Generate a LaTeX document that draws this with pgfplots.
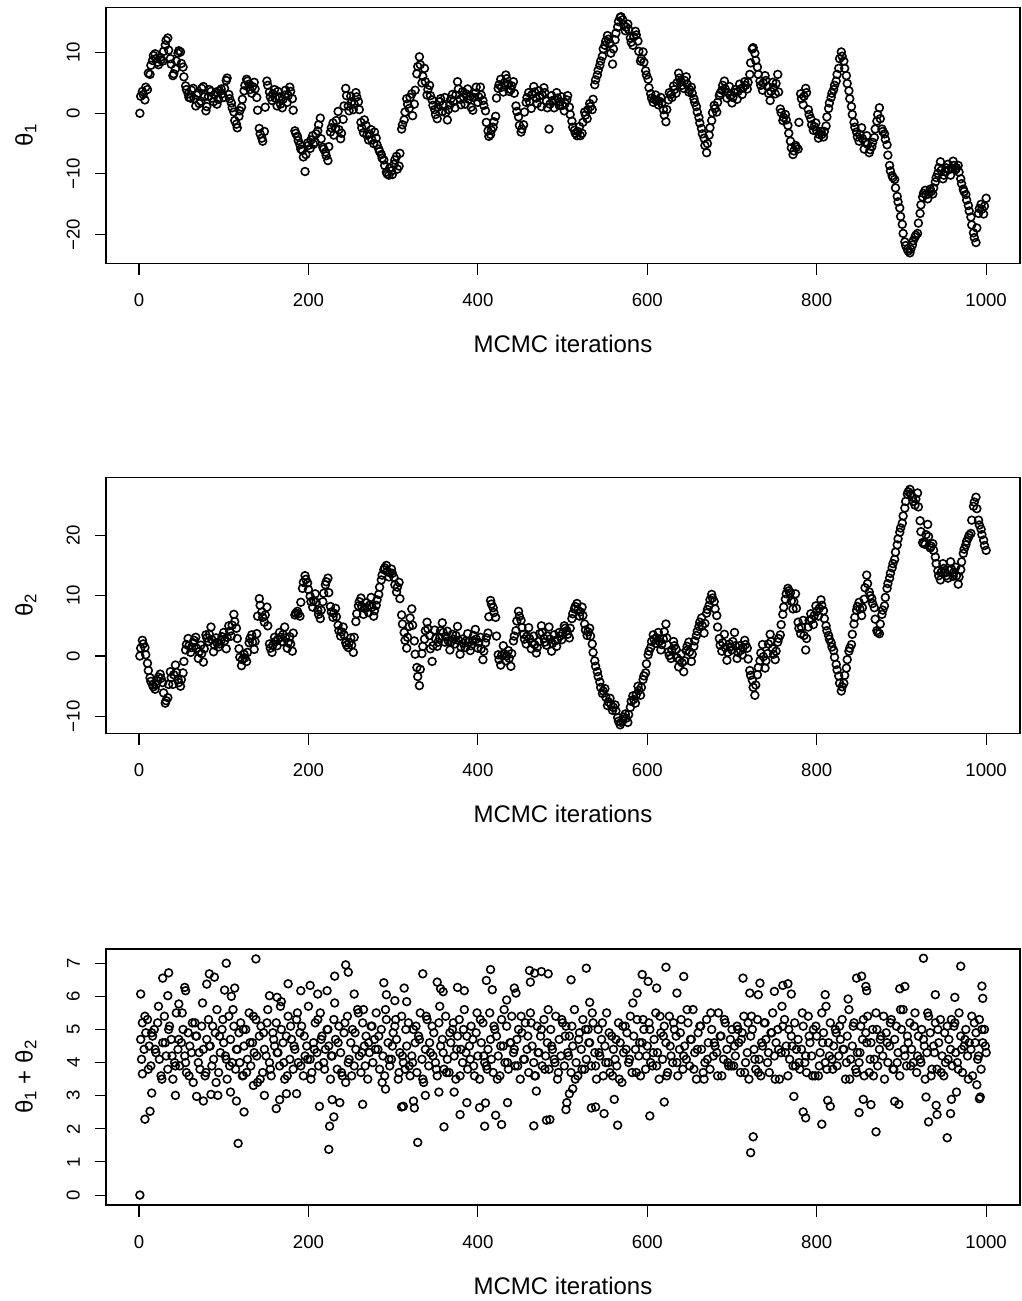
\documentclass[border=0pt]{standalone}
\usepackage{fontspec}
\setmainfont{Liberation Sans}
\usepackage{graphicx}
\usepackage{pgfplots}
\usepackage{pgfplotstable}
\pgfplotsset{compat=1.18}

\pgfplotstableread{
x y
1 0.0
4 3.6
7 2.2
10 3.9
13 6.4
16 8.7
19 9.8
22 8.4
25 9.2
28 8.6
31 11.2
34 12.4
37 9.0
40 6.2
43 7.3
46 9.9
49 10.1
52 7.6
55 4.5
58 3.2
61 2.5
64 4.1
67 1.2
70 3.3
73 2.0
76 4.4
79 0.4
82 2.8
85 3.6
88 1.9
91 3.5
94 2.3
97 4.0
100 2.6
103 5.4
106 3.1
109 1.7
112 0.2
115 -1.8
118 -0.5
121 1.0
124 3.7
127 5.6
130 4.8
133 3.3
136 5.1
139 2.6
142 -2.5
145 -4.1
148 -3.0
151 5.3
154 3.5
157 2.1
160 3.9
163 1.2
166 2.7
169 0.9
172 3.0
175 1.8
178 4.3
181 2.4
184 -2.9
187 -3.8
190 -5.2
193 -6.1
196 -9.6
199 -4.9
202 -5.8
205 -3.7
208 -4.8
211 -2.9
214 -0.8
217 -5.6
220 -6.4
223 -7.8
226 -3.1
229 -1.6
232 -2.5
235 0.3
238 -4.2
241 -1.0
244 4.1
247 1.2
250 2.8
253 0.6
256 3.4
259 1.9
262 -1.5
265 -3.2
268 -2.0
271 -4.4
274 -2.7
277 -5.0
280 -4.1
283 -5.9
286 -6.8
289 -7.7
292 -9.7
295 -10.2
298 -9.5
301 -8.4
304 -7.1
307 -8.7
310 -2.6
313 -1.1
316 2.4
319 0.8
322 3.2
325 1.5
328 6.5
331 9.3
334 5.0
337 7.4
340 3.0
343 4.6
346 2.2
349 0.6
352 -0.9
355 1.9
358 0.3
361 2.6
364 -1.1
367 1.4
370 3.1
373 0.9
376 5.2
379 2.3
382 3.6
385 1.5
388 4.0
391 2.8
394 0.5
397 3.3
400 1.8
403 4.3
406 2.1
409 0.4
412 -2.9
415 -3.5
418 -2.3
421 -0.5
424 4.1
427 5.6
430 3.5
433 6.3
436 4.8
439 3.9
442 5.2
445 1.2
448 -0.6
451 -3.1
454 -1.9
457 1.8
460 3.4
463 0.8
466 4.4
469 2.5
472 3.7
475 1.1
478 4.2
481 2.0
484 -2.6
487 2.9
490 0.9
493 3.4
496 1.3
499 2.7
502 0.4
505 2.2
508 1.0
511 -1.3
514 -2.8
517 -3.7
520 -2.2
523 -3.3
526 0.2
529 -0.9
532 1.6
535 0.6
538 4.7
541 6.3
544 7.9
547 9.4
550 11.2
553 12.8
556 11.5
559 8.1
562 12.1
565 14.2
568 15.8
571 15.4
574 13.6
577 14.7
580 12.4
583 11.2
586 13.5
589 11.9
592 8.6
595 10.1
598 7.0
601 5.6
604 3.2
607 1.8
610 3.0
613 1.4
616 2.6
619 0.6
622 -1.4
625 2.2
628 3.1
631 4.5
634 3.3
637 6.6
640 5.2
643 4.1
646 6.0
649 3.5
652 4.3
655 2.4
658 1.1
661 -0.7
664 -2.5
667 -4.1
670 -6.5
673 -3.6
676 -1.2
679 1.3
682 0.2
685 2.9
688 3.8
691 5.3
694 2.5
697 4.4
700 1.7
703 3.4
706 2.3
709 4.8
712 3.1
715 5.2
718 4.0
721 6.4
724 10.6
727 9.9
730 7.6
733 5.3
736 3.8
739 6.2
742 4.4
745 2.1
748 5.1
751 3.2
754 6.4
757 0.7
760 -1.2
763 -0.2
766 -2.0
769 -4.6
772 -6.8
775 -5.3
778 -5.9
781 3.2
784 1.4
787 4.1
790 0.6
793 -0.9
796 -2.8
799 -1.6
802 -4.1
805 -3.0
808 -3.9
811 -2.1
814 0.8
817 2.6
820 3.9
823 5.3
826 7.4
829 10.1
832 8.6
835 6.2
838 3.7
841 1.1
844 -1.5
847 -3.1
850 -4.6
853 -2.4
856 -5.9
859 -3.7
862 -6.5
865 -5.5
868 -4.0
871 -1.3
874 0.9
877 -2.6
880 -3.4
883 -5.2
886 -8.6
889 -10.3
892 -10.9
895 -13.7
898 -15.6
901 -18.3
904 -21.2
907 -22.4
910 -23.0
913 -21.7
916 -20.4
919 -19.8
922 -16.5
925 -13.8
928 -12.7
931 -14.1
934 -12.5
937 -13.3
940 -11.3
943 -9.9
946 -8.0
949 -10.8
952 -9.6
955 -8.4
958 -10.2
961 -7.9
964 -9.3
967 -8.6
970 -10.8
973 -12.5
976 -13.4
979 -15.2
982 -17.1
985 -19.7
988 -21.3
991 -16.5
994 -15.0
997 -16.6
1000 -14.0
}\thetaone

\pgfplotstableread{
x y
2 2.8
5 3.1
8 4.3
11 6.6
14 7.9
17 9.5
20 9.0
23 8.0
26 8.8
29 10.2
32 12.0
35 10.4
38 8.1
41 6.5
44 8.6
47 10.3
50 8.2
53 6.0
56 3.9
59 2.6
62 3.8
65 2.4
68 3.0
71 1.6
74 4.1
77 2.7
80 1.1
83 3.9
86 2.5
89 3.0
92 1.5
95 3.7
98 3.2
101 4.1
104 5.8
107 2.4
110 0.9
113 -1.2
116 -2.4
119 0.4
122 2.3
125 4.6
128 5.3
131 3.9
134 4.4
137 4.0
140 0.5
143 -3.4
146 -4.6
149 1.0
152 4.6
155 2.7
158 3.2
161 2.5
164 3.6
167 1.5
170 2.3
173 3.8
176 2.9
179 3.6
182 0.5
185 -3.3
188 -4.5
191 -5.9
194 -7.2
197 -6.8
200 -5.3
203 -4.4
206 -5.1
209 -3.4
212 -1.9
215 -4.2
218 -5.9
221 -7.0
224 -5.5
227 -2.4
230 -3.6
233 -1.2
236 -2.7
239 -3.3
242 1.2
245 2.9
248 0.4
251 1.9
254 1.5
257 2.7
260 0.6
263 -2.4
266 -1.1
269 -3.6
272 -3.4
275 -4.4
278 -3.1
281 -5.2
284 -6.3
287 -7.4
290 -8.6
293 -10.0
296 -9.0
299 -10.1
302 -7.7
305 -9.2
308 -6.6
311 -1.9
314 0.2
317 1.5
320 2.6
323 -0.4
326 3.8
329 7.7
332 8.0
335 6.1
338 5.2
341 3.9
344 2.9
347 1.3
350 -0.2
353 1.0
356 2.4
359 1.3
362 0.1
365 0.6
368 2.3
371 1.9
374 3.0
377 4.0
380 1.4
383 2.7
386 3.2
389 2.3
392 1.0
395 2.6
398 4.3
401 2.7
404 3.0
407 1.3
410 -1.5
413 -3.8
416 -2.8
419 -1.4
422 2.5
425 4.7
428 4.3
431 5.0
434 5.7
437 3.6
440 4.5
443 3.3
446 0.3
449 -2.0
452 -2.6
455 0.2
458 2.6
461 1.9
464 3.1
467 3.5
470 1.6
473 2.9
476 3.0
479 3.4
482 0.9
485 1.5
488 2.1
491 2.2
494 2.5
497 1.9
500 1.3
503 1.6
506 2.9
509 -0.2
512 -2.3
515 -3.3
518 -3.0
521 -3.7
524 -1.5
527 -0.3
530 0.6
533 1.1
536 2.3
539 5.5
542 7.1
545 8.6
548 10.6
551 11.9
554 12.2
557 9.9
560 10.6
563 13.2
566 15.1
569 15.9
572 14.6
575 14.2
578 13.8
581 11.7
584 12.6
587 12.9
590 10.2
593 9.0
596 8.4
599 6.3
602 4.2
605 2.5
608 2.3
611 2.1
614 2.0
617 1.6
620 -0.3
623 0.6
626 3.4
629 2.6
632 3.9
635 5.0
638 5.8
641 4.6
644 5.4
647 4.8
650 3.9
653 3.3
656 1.8
659 0.2
662 -1.6
665 -3.4
668 -5.3
671 -5.0
674 -2.4
677 0.1
680 0.8
683 1.8
686 3.3
689 4.6
692 4.0
695 3.4
698 2.9
701 2.6
704 3.9
707 3.6
710 4.0
713 4.2
716 4.6
719 5.1
722 8.3
725 10.8
728 8.7
731 6.4
734 4.6
737 5.0
740 5.4
743 3.3
746 3.6
749 4.2
752 4.9
755 3.5
758 0.1
761 -0.7
764 -1.1
767 -3.3
770 -5.7
773 -6.2
776 -5.6
779 -1.5
782 2.4
785 2.8
788 3.4
791 -0.2
794 -1.9
797 -2.2
800 -2.9
803 -3.5
806 -3.5
809 -3.0
812 -0.6
815 1.7
818 3.3
821 4.6
824 6.4
827 9.0
830 9.4
833 7.4
836 4.9
839 2.4
842 -0.2
845 -2.3
848 -3.9
851 -3.5
854 -4.2
857 -4.8
860 -5.1
863 -6.0
866 -4.8
869 -2.6
872 -0.2
875 -0.9
878 -3.0
881 -4.3
884 -6.9
887 -9.5
890 -10.6
893 -12.3
896 -14.6
899 -17.0
902 -19.8
905 -21.8
908 -22.7
911 -22.4
914 -21.0
917 -20.1
920 -18.1
923 -15.1
926 -13.2
929 -13.4
932 -13.3
935 -12.9
938 -12.3
941 -10.6
944 -9.0
947 -9.4
950 -10.2
953 -9.0
956 -9.3
959 -9.0
962 -8.6
965 -9.0
968 -9.7
971 -11.6
974 -12.9
977 -14.3
980 -16.1
983 -18.4
986 -20.5
989 -18.9
992 -15.7
995 -15.8
998 -15.3
}\thetaoneb

\pgfplotstableread{
x y
1 0.0
4 2.6
7 1.4
10 -1.2
13 -3.6
16 -4.8
19 -5.5
22 -4.1
25 -3.0
28 -4.4
31 -7.8
34 -6.9
37 -2.6
40 -4.7
43 -1.5
46 -3.9
49 -5.0
52 -2.8
55 1.0
58 2.9
61 0.6
64 2.2
67 3.1
70 -0.4
73 1.8
76 -1.0
79 3.5
82 2.4
85 4.8
88 0.7
91 3.0
94 1.5
97 2.6
100 3.9
103 1.2
106 5.0
109 3.3
112 6.9
115 4.6
118 1.2
121 -1.6
124 0.3
127 -0.9
130 2.2
133 3.5
136 1.1
139 3.7
142 9.5
145 7.3
148 5.6
151 8.1
154 2.0
157 0.6
160 3.1
163 1.7
166 3.9
169 2.4
172 4.8
175 1.3
178 3.2
181 0.8
184 6.8
187 7.4
190 6.6
193 11.2
196 13.3
199 12.1
202 9.9
205 8.1
208 10.3
211 7.6
214 6.2
217 9.0
220 11.8
223 12.9
226 8.2
229 6.4
232 7.9
235 5.1
238 3.3
241 4.8
244 2.2
247 1.4
250 3.0
253 0.6
256 5.7
259 8.3
262 9.6
265 6.9
268 8.8
271 7.2
274 9.7
277 6.6
280 8.4
283 10.2
286 12.6
289 14.3
292 15.0
295 13.1
298 14.4
301 13.0
304 10.6
307 12.2
310 6.8
313 3.9
316 1.3
319 4.9
322 7.8
325 2.5
328 -1.9
331 -4.9
334 0.4
337 2.8
340 5.6
343 3.4
346 -0.9
349 4.3
352 1.6
355 3.0
358 5.5
361 2.3
364 4.1
367 1.0
370 3.6
373 2.0
376 4.9
379 0.3
382 2.8
385 1.4
388 3.7
391 0.9
394 2.5
397 4.4
400 1.3
403 3.1
406 -0.6
409 2.2
412 3.8
415 9.2
418 8.0
421 6.4
424 0.2
427 -1.5
430 1.7
433 -0.8
436 0.9
439 -1.7
442 2.5
445 4.2
448 7.4
451 5.9
454 3.6
457 2.0
460 4.7
463 1.2
466 3.3
469 0.5
472 2.4
475 5.0
478 2.9
481 1.8
484 4.8
487 0.8
490 3.5
493 1.6
496 3.9
499 2.7
502 5.0
505 4.2
508 3.0
511 6.2
514 7.8
517 8.7
520 6.6
523 8.1
526 5.3
529 3.4
532 4.6
535 2.0
538 -0.8
541 -2.6
544 -4.3
547 -6.2
550 -5.4
553 -8.2
556 -7.0
559 -9.0
562 -8.1
565 -10.2
568 -11.4
571 -10.7
574 -9.6
577 -11.0
580 -8.5
583 -6.6
586 -7.8
589 -5.0
592 -6.5
595 -3.9
598 -2.8
601 0.2
604 1.4
607 3.5
610 2.1
613 3.9
616 1.0
619 2.8
622 5.3
625 0.7
628 -0.4
631 2.4
634 1.1
637 -1.8
640 0.3
643 -2.6
646 0.9
649 2.3
652 -0.9
655 1.6
658 3.4
661 4.9
664 6.3
667 3.8
670 7.1
673 8.4
676 10.2
679 9.0
682 6.7
685 2.9
688 0.8
691 3.6
694 -0.7
697 2.0
700 1.0
703 3.9
706 -0.4
709 1.7
712 0.2
715 2.6
718 1.3
721 -2.4
724 -4.0
727 -6.5
730 -3.1
733 -0.8
736 1.9
739 -2.0
742 0.4
745 3.6
748 1.2
751 -0.6
754 2.3
757 3.5
760 6.9
763 9.4
766 11.2
769 10.5
772 7.8
775 10.3
778 5.6
781 3.7
784 5.9
787 1.0
790 4.8
793 7.0
796 5.2
799 8.3
802 6.6
805 9.3
808 7.5
811 5.0
814 3.4
817 2.2
820 0.9
823 -1.4
826 -3.3
829 -5.8
832 -4.5
835 -2.0
838 0.8
841 1.9
844 5.3
847 7.6
850 8.9
853 6.7
856 9.4
859 13.4
862 10.6
865 9.5
868 8.0
871 4.2
874 3.7
877 6.9
880 8.3
883 11.2
886 12.9
889 14.6
892 16.0
895 18.4
898 20.5
901 22.0
904 24.5
907 26.8
910 27.6
913 26.3
916 25.0
919 27.0
922 22.4
925 18.8
928 18.5
931 21.8
934 17.9
937 18.6
940 16.4
943 14.1
946 12.6
949 15.3
952 13.8
955 12.9
958 15.6
961 13.2
964 14.7
967 11.9
970 14.3
973 17.0
976 18.4
979 19.6
982 20.3
985 24.8
988 26.3
991 22.5
994 21.0
997 19.2
1000 17.5
}\thetatwo

\pgfplotstableread{
x y
2 1.3
5 2.0
8 0.2
11 -2.4
14 -4.2
17 -5.1
20 -4.8
23 -3.5
26 -3.7
29 -6.1
32 -7.4
35 -4.7
38 -3.6
41 -3.1
44 -2.7
47 -4.4
50 -3.9
53 -0.9
56 1.9
59 1.7
62 1.4
65 2.6
68 1.3
71 0.7
74 0.4
77 1.2
80 3.0
83 3.6
86 2.7
89 1.8
92 2.2
95 2.0
98 3.2
101 2.5
104 3.1
107 4.1
110 5.1
113 5.7
116 2.9
119 -0.2
122 -0.6
125 -0.3
128 0.6
131 2.9
134 2.3
137 2.4
140 6.6
143 8.4
146 6.4
149 6.8
152 5.0
155 1.3
158 1.8
161 2.4
164 2.8
167 3.1
170 3.6
173 3.0
176 2.2
179 2.0
182 3.8
185 7.1
188 7.0
191 8.9
194 12.2
197 12.7
200 11.0
203 9.0
206 9.2
209 8.9
212 6.9
215 7.6
218 10.4
221 12.3
224 10.5
227 7.3
230 7.1
233 6.5
236 4.2
239 4.0
242 3.5
245 1.8
248 2.2
251 1.8
254 3.1
257 7.0
260 9.0
263 8.2
266 7.9
269 8.0
272 8.4
275 8.1
278 7.5
281 9.3
284 11.4
287 13.4
290 14.6
293 14.0
296 13.8
299 13.7
302 11.8
305 11.4
308 9.5
311 5.3
314 2.6
317 3.1
320 6.3
323 5.1
326 0.3
329 -3.4
332 -2.2
335 1.6
338 4.2
341 4.5
344 1.2
347 1.7
350 2.9
353 2.3
356 4.2
359 3.9
362 3.2
365 2.5
368 2.3
371 2.8
374 3.4
377 2.6
380 1.5
383 2.1
386 2.5
389 2.3
392 1.7
395 3.4
398 2.8
401 2.2
404 1.2
407 0.8
410 3.0
413 6.5
416 8.6
419 7.2
422 3.3
425 -0.6
428 0.1
431 0.4
434 0.0
437 -0.4
440 0.4
443 3.3
446 5.8
449 6.6
452 4.7
455 2.8
458 3.3
461 2.9
464 2.2
467 1.9
470 1.4
473 3.7
476 3.9
479 2.3
482 3.3
485 2.8
488 2.1
491 2.5
494 2.7
497 3.3
500 3.8
503 4.6
506 3.6
509 4.6
512 7.0
515 8.2
518 7.6
521 7.3
524 6.7
527 4.3
530 4.0
533 3.3
536 0.6
539 -1.7
542 -3.4
545 -5.2
548 -5.8
551 -6.8
554 -7.6
557 -8.0
560 -8.5
563 -9.1
566 -10.8
569 -11.0
572 -10.1
575 -10.3
578 -9.7
581 -7.5
584 -7.2
587 -6.4
590 -5.7
593 -5.2
596 -3.3
599 -1.3
602 0.8
605 2.4
608 2.8
611 3.0
614 2.4
617 1.9
620 4.0
623 3.0
626 0.1
629 1.0
632 1.7
635 -0.3
638 -0.7
641 -1.1
644 -0.8
647 1.6
650 0.7
653 0.3
656 2.5
659 4.1
662 5.6
665 5.0
668 5.4
671 7.7
674 9.3
677 9.6
680 7.8
683 4.8
686 1.8
689 2.2
692 1.4
695 0.6
698 1.5
701 2.4
704 1.7
707 0.6
710 0.9
713 1.4
716 1.9
719 -0.5
722 -3.2
725 -5.2
728 -4.8
731 -1.9
734 0.5
737 -0.1
740 -0.8
743 2.0
746 2.4
749 0.3
752 0.8
755 2.9
758 5.2
761 8.1
764 10.3
767 10.8
770 9.1
773 9.0
776 7.9
779 4.6
782 4.8
785 3.4
788 2.9
791 5.9
794 6.1
797 6.7
800 7.4
803 7.9
806 8.4
809 6.2
812 4.2
815 2.8
818 1.5
821 -0.2
824 -2.3
827 -4.5
830 -5.1
833 -3.2
836 -0.6
839 1.3
842 3.6
845 6.4
848 8.2
851 7.8
854 8.0
857 11.3
860 12.0
863 10.0
866 8.7
869 6.1
872 3.9
875 5.3
878 7.6
881 9.7
884 12.0
887 13.7
890 15.3
893 17.2
896 19.4
899 21.2
902 23.2
905 25.6
908 27.2
911 26.9
914 25.6
917 26.0
920 24.7
923 20.6
926 18.6
929 20.1
932 19.8
935 18.2
938 17.5
941 15.3
944 13.3
947 13.9
950 14.5
953 13.3
956 14.2
959 14.4
962 13.9
965 13.3
968 13.1
971 15.6
974 17.7
977 19.0
980 20.0
983 22.5
986 25.5
989 24.4
992 21.7
995 20.1
998 18.3
}\thetatwob

\pgfplotstableread{
x y
1 0.0
2 6.07
4 3.66
7 2.29
13 2.53
15 3.08
28 6.55
35 6.71
34 6.02
43 3.01
47 5.77
54 6.27
55 6.17
68 2.98
76 2.84
80 6.37
83 6.68
89 6.58
85 3.04
93 3.01
103 7.00
101 6.19
109 6.00
113 6.25
108 3.11
115 2.84
117 1.56
124 2.51
138 7.13
123 3.61
135 3.31
148 3.01
162 2.61
166 2.88
174 3.06
186 3.06
154 6.02
163 5.97
168 5.84
176 6.38
191 6.17
202 6.33
211 6.07
222 6.17
213 2.68
225 2.08
224 1.38
230 2.36
228 2.88
237 2.79
231 6.61
244 6.95
247 6.73
254 6.07
264 2.74
265 5.60
289 6.41
292 6.05
302 5.87
313 6.25
316 5.84
291 3.20
310 2.66
312 2.68
325 2.63
324 2.84
329 1.59
335 6.68
338 3.01
352 6.43
356 6.23
359 6.14
360 2.06
354 3.11
372 3.11
379 2.43
387 2.79
376 6.27
384 6.17
402 2.64
409 2.78
408 2.08
410 6.48
415 6.81
417 6.20
421 2.41
428 2.13
435 2.79
434 5.89
443 6.25
445 6.10
461 6.78
462 6.43
467 6.70
475 6.75
483 6.68
469 3.14
466 2.09
481 2.26
485 2.28
510 6.50
528 6.85
504 2.58
505 2.79
508 3.06
512 3.21
534 2.63
539 2.66
549 2.46
561 2.89
565 2.11
532 5.82
594 6.66
601 6.45
611 6.25
622 6.88
643 6.60
635 6.10
588 6.10
603 2.39
620 2.81
713 6.55
733 6.40
721 6.10
731 6.05
750 6.15
760 6.33
766 6.38
770 6.07
725 1.76
722 1.28
773 2.98
784 2.51
787 2.33
806 2.14
816 2.68
813 2.86
810 6.05
837 5.92
847 6.55
853 6.61
859 6.17
858 6.30
850 2.49
855 2.89
864 2.73
870 1.91
898 6.23
904 6.30
892 2.83
897 2.74
926 7.15
940 6.05
963 5.97
970 6.91
995 6.31
996 5.94
929 2.96
941 2.71
932 2.21
942 2.43
954 1.73
958 2.46
959 2.89
965 3.11
992 2.91
993 2.96
989 3.33
}\sumout

\pgfplotstableread{
x y
2 4.7
4 5.2
6 4.4
8 4.9
10 5.3
12 4.5
14 3.9
16 4.8
18 5.0
20 4.3
22 5.2
24 4.1
26 3.6
28 4.6
30 5.4
32 4.2
34 3.8
36 5.1
38 4.7
40 3.5
42 4.0
44 5.5
46 4.4
48 3.9
50 4.6
52 5.0
54 4.2
56 3.7
58 4.9
60 4.5
62 4.3
64 3.4
66 5.2
68 4.8
70 4.0
72 3.8
74 5.1
76 4.4
78 3.6
80 4.7
82 5.3
84 4.5
86 3.9
88 4.1
90 4.9
92 5.6
94 3.7
96 4.3
98 5.0
100 4.6
102 4.2
104 3.5
106 5.4
108 4.7
110 4.0
112 5.1
114 3.8
116 4.4
118 4.9
120 5.2
122 3.6
124 4.5
126 5.0
128 4.1
130 5.5
132 3.9
134 4.6
136 4.3
138 5.3
140 3.4
142 4.8
144 5.1
146 3.7
148 4.4
150 4.2
152 5.6
154 4.0
156 3.6
158 4.9
160 4.5
162 5.2
164 4.3
166 3.9
168 5.0
170 4.6
172 3.5
174 4.8
176 5.4
178 4.1
180 4.7
182 3.8
184 4.4
186 5.3
188 4.0
190 4.9
192 5.1
194 3.6
196 4.2
198 4.5
200 5.7
202 4.1
204 3.7
206 4.6
208 5.2
210 4.3
212 3.9
214 5.5
216 4.8
218 4.0
220 4.4
222 5.0
224 4.5
226 3.5
228 4.2
230 5.3
232 4.7
234 3.8
236 5.1
238 4.3
240 3.6
242 4.9
244 3.4
246 5.4
248 4.1
250 4.6
252 5.0
254 3.9
256 4.4
258 5.6
260 4.2
262 3.7
264 5.2
266 4.5
268 4.8
270 3.5
272 4.3
274 5.1
276 4.0
278 4.7
280 5.5
282 4.4
284 3.8
286 5.0
288 4.2
290 3.6
292 5.3
294 4.6
296 3.9
298 4.1
300 4.9
302 5.1
304 4.7
306 3.5
308 4.3
310 5.4
312 4.0
314 3.8
316 4.5
318 5.2
320 3.6
322 4.2
324 5.0
326 4.6
328 3.7
330 4.8
332 5.5
334 4.1
336 3.4
338 4.4
340 5.3
342 3.9
344 4.3
346 5.1
348 4.9
350 4.0
352 3.6
354 5.2
356 4.5
358 4.7
360 3.8
362 5.4
364 4.1
366 3.7
368 4.6
370 5.0
372 4.2
374 3.5
376 4.8
378 5.3
380 4.4
382 4.0
384 5.6
386 4.3
388 3.8
390 4.5
392 5.1
394 4.7
396 3.6
398 4.9
400 4.2
402 3.5
404 4.6
406 5.2
408 4.0
410 3.9
412 4.4
414 5.5
416 4.1
418 3.7
420 5.0
422 4.8
424 4.2
426 3.6
428 5.3
430 4.5
432 4.0
434 5.1
436 3.8
438 4.6
440 5.4
442 4.3
444 3.9
446 4.7
448 5.0
450 3.5
452 4.9
454 4.1
456 5.2
458 4.4
460 3.7
462 5.5
464 4.5
466 4.0
468 3.6
470 5.1
472 4.3
474 4.8
476 3.9
478 5.3
480 4.2
482 4.6
484 3.8
486 5.0
488 4.4
490 4.1
492 5.4
494 3.5
496 4.7
498 4.2
500 5.2
502 3.9
504 5.1
506 4.3
508 4.8
510 3.7
512 4.5
514 5.6
516 4.0
518 3.6
520 4.9
522 4.4
524 5.3
526 3.8
528 4.1
530 5.0
532 4.6
534 3.9
536 5.2
538 4.3
540 3.5
542 5.0
544 4.2
546 4.7
548 3.6
550 4.5
552 5.5
554 4.0
556 3.7
558 4.8
560 4.4
562 4.1
564 3.9
566 5.2
568 4.6
570 3.4
572 4.3
574 5.1
576 4.9
578 4.0
580 5.4
582 3.7
584 4.8
586 4.4
588 5.3
590 4.2
592 3.6
594 4.6
596 5.0
598 3.8
600 4.5
602 5.2
604 4.0
606 3.9
608 4.7
610 5.5
612 4.3
614 3.5
616 4.9
618 4.1
620 5.1
622 4.6
624 3.7
626 5.4
628 4.2
630 4.0
632 5.0
634 4.8
636 3.6
638 4.4
640 5.3
642 3.8
644 4.5
646 4.1
648 5.2
650 3.9
652 4.7
654 5.6
656 4.3
658 3.5
660 4.9
662 5.1
664 4.4
666 3.7
668 4.0
670 5.3
672 4.6
674 3.8
676 5.0
678 4.2
680 4.5
682 4.3
684 5.5
686 4.8
688 3.6
690 4.1
692 5.2
694 4.4
696 3.9
698 4.7
700 5.0
702 3.9
704 4.2
706 5.1
708 4.6
710 3.7
712 4.9
714 5.4
716 4.0
718 4.3
720 3.5
722 4.8
724 5.0
726 4.4
728 3.8
730 5.3
732 4.1
734 3.6
736 4.5
738 5.2
740 4.7
742 4.0
744 3.7
746 4.9
748 5.5
750 4.2
752 4.6
754 5.0
756 3.5
758 4.3
760 5.1
762 5.3
764 4.5
766 3.6
768 4.1
770 4.8
772 3.9
774 5.2
776 4.4
778 4.7
780 3.8
782 4.4
784 5.1
786 4.0
788 3.7
790 5.4
792 4.6
794 4.2
796 5.0
798 3.6
800 4.8
802 3.6
804 4.3
806 5.5
808 4.9
810 4.0
812 3.8
814 4.6
816 5.2
818 4.1
820 4.5
822 5.0
824 3.9
826 4.2
828 4.7
830 5.3
832 4.4
834 3.5
836 4.8
838 5.6
840 4.1
842 4.5
844 5.2
846 3.8
848 4.3
850 4.0
852 5.1
854 4.7
856 3.6
858 4.9
860 5.4
862 3.7
864 4.6
866 5.0
868 4.1
870 5.5
872 3.9
874 4.4
876 4.8
878 4.2
880 3.5
882 4.9
884 4.0
886 4.5
888 5.3
890 3.8
892 4.7
894 5.1
896 4.3
898 3.6
900 5.0
902 5.6
904 4.2
906 3.9
908 4.6
910 5.2
912 4.4
914 4.0
916 5.5
918 3.7
920 4.8
922 4.1
924 5.0
926 4.7
928 3.5
930 4.3
932 5.4
934 4.9
936 3.8
938 4.5
940 5.2
942 3.8
944 4.6
946 5.3
948 4.2
950 3.6
952 4.0
954 5.1
956 4.7
958 4.4
960 3.9
962 5.1
964 4.3
966 4.0
968 5.5
970 4.8
972 3.7
974 4.5
976 5.0
978 4.2
980 4.6
982 4.4
984 3.6
986 5.2
988 4.9
990 4.1
992 5.3
994 3.8
996 4.6
998 5.0
1000 4.3
}\sumbulk

\pgfplotstableread{
x y
3 4.1
7 5.4
11 3.8
15 4.9
19 4.4
23 5.7
27 3.5
31 4.6
35 5.0
39 4.2
43 3.9
47 4.7
51 5.5
55 4.0
59 3.6
63 5.2
67 4.8
71 4.3
75 5.8
79 3.7
83 4.5
87 5.1
91 3.4
95 4.8
99 5.3
103 4.1
107 3.9
111 5.6
115 4.4
119 4.0
123 5.0
127 3.7
131 4.6
135 5.4
139 4.2
143 3.5
147 4.9
151 5.2
155 3.8
159 4.7
163 4.3
167 5.7
171 4.0
175 3.6
179 5.1
183 4.5
187 5.5
191 3.9
195 4.8
199 4.1
203 3.5
207 4.4
211 5.3
215 4.7
219 3.8
223 5.0
227 4.2
231 5.8
235 4.6
239 3.7
243 5.2
247 4.0
251 3.6
255 4.9
259 5.5
263 4.3
267 3.9
271 4.6
275 5.1
279 4.4
283 4.8
287 3.4
291 5.6
295 4.1
299 4.5
303 5.3
307 3.7
311 4.2
315 5.0
319 3.9
323 4.0
327 5.1
331 4.7
335 3.5
339 5.4
343 4.6
347 4.2
351 3.8
355 5.7
359 4.3
363 3.7
367 4.9
371 5.2
375 4.4
379 3.6
383 5.0
387 4.8
391 4.1
395 3.9
399 5.5
403 5.3
407 4.2
411 3.8
415 4.7
419 5.1
423 3.5
427 4.5
431 5.6
435 4.0
439 4.6
443 4.4
447 3.9
451 5.4
455 4.1
459 4.8
463 5.2
467 3.6
471 4.3
475 5.0
479 3.8
483 5.6
487 4.5
491 4.0
495 3.7
499 5.3
503 4.8
507 4.2
511 5.1
515 3.5
519 4.7
523 3.8
527 5.0
531 4.6
535 5.5
539 3.9
543 4.3
547 5.2
551 4.0
555 4.9
559 3.6
563 4.7
567 3.5
571 5.1
575 4.4
579 4.1
583 5.8
587 3.7
591 4.6
595 5.3
599 4.2
603 5.0
607 4.3
611 3.9
615 5.4
619 4.8
623 3.6
627 4.5
631 5.2
635 4.0
639 4.9
643 4.2
647 5.6
651 4.7
655 3.8
659 4.4
663 5.1
667 3.5
671 4.1
675 5.5
679 4.6
683 3.6
687 4.8
691 5.3
695 4.0
699 3.9
703 4.5
707 5.0
711 4.7
715 3.7
719 5.2
723 5.4
727 4.1
731 3.7
735 4.6
739 5.2
743 4.3
747 4.9
751 3.5
755 4.4
759 5.7
763 4.3
767 5.0
771 4.5
775 3.9
779 4.0
783 5.5
787 4.2
791 4.8
795 3.6
799 5.1
803 3.9
807 4.6
811 5.7
815 4.2
819 3.8
823 4.9
827 5.1
831 4.4
835 4.0
839 3.5
843 5.1
847 3.7
851 4.3
855 5.3
859 4.6
863 4.1
867 3.6
871 5.0
875 4.7
879 5.4
883 4.6
887 5.2
891 3.8
895 4.0
899 5.6
903 4.4
907 4.8
911 3.9
915 5.1
919 4.2
923 4.0
927 4.5
931 5.5
935 3.6
939 4.3
943 5.0
947 3.7
951 4.9
955 4.1
959 5.3
963 5.2
967 3.8
971 4.4
975 4.7
979 3.5
983 5.4
987 4.6
991 4.2
995 5.0
999 4.5
}\sumbulkb

\newcommand\rtick[1]{\pgfmathtruncatemacro\tv{#1}\ifnum\tv<0 \pgfmathtruncatemacro\ta{-\tv}−\ta\else\tv\fi}

\pgfplotsset{rstyle/.style={
  scale only axis, width=914pt, height=256pt,
  xmin=-38.96, xmax=1039.96,
  axis line style={line width=1.1pt},
  tick style={black, line width=1.1pt},
  tick align=outside, major tick length=11.5pt,
  xtick pos=left, ytick pos=left,
  xtick={0,200,...,1000},
  scaled x ticks=false, scaled y ticks=false,
  /pgf/number format/assume math mode=true,
  /pgf/number format/1000 sep={},
  ticklabel style={font=\fontsize{18.6}{22}\selectfont},
  xticklabel style={anchor=base, inner sep=0pt},
  xticklabel shift=31.8pt,
  yticklabel={\rotatebox{90}{\rtick{\tick}}},
  yticklabel style={anchor=east, inner sep=0pt, xshift=-14.5pt},
  x label style={at={(axis description cs:0.5,-0.3477)}, anchor=base, inner sep=0pt, font=\fontsize{24}{28}\selectfont},
  y label style={at={(axis description cs:-0.0803,0.5)}, anchor=base, inner sep=0pt, font=\fontsize{24}{28}\selectfont},
  xlabel={MCMC iterations},
}, rmark/.style={only marks, mark=o, mark size=3.9pt, draw=black, line width=1.6pt, mark options={draw=black, fill=none, line width=1.6pt}}}

\begin{document}
\begin{tikzpicture}
\useasboundingbox (0,0) rectangle (1021pt,1301pt);
\begin{axis}[rstyle, at={(106pt,1037.7pt)}, anchor=south west,
  ymin=-24.72, ymax=17.46, ytick={-20,-10,0,10},
  ylabel={θ\textsubscript{1}}]
\addplot[rmark] table {\thetaone};
\addplot[rmark] table {\thetaoneb};
\end{axis}
\begin{axis}[rstyle, at={(106pt,567.7pt)}, anchor=south west,
  ymin=-12.8, ymax=29.6, ytick={-10,0,10,20},
  ylabel={θ\textsubscript{2}}]
\addplot[rmark] table {\thetatwo};
\addplot[rmark] table {\thetatwob};
\end{axis}
\begin{axis}[rstyle, at={(106pt,96pt)}, anchor=south west,
  ymin=-0.3, ymax=7.43, ytick={0,1,...,7},
  ylabel={θ\textsubscript{1} + θ\textsubscript{2}}]
\addplot[rmark] table {\sumbulk};
\addplot[rmark] table {\sumbulkb};
\addplot[rmark] table {\sumout};
\end{axis}
\end{tikzpicture}
\end{document}
